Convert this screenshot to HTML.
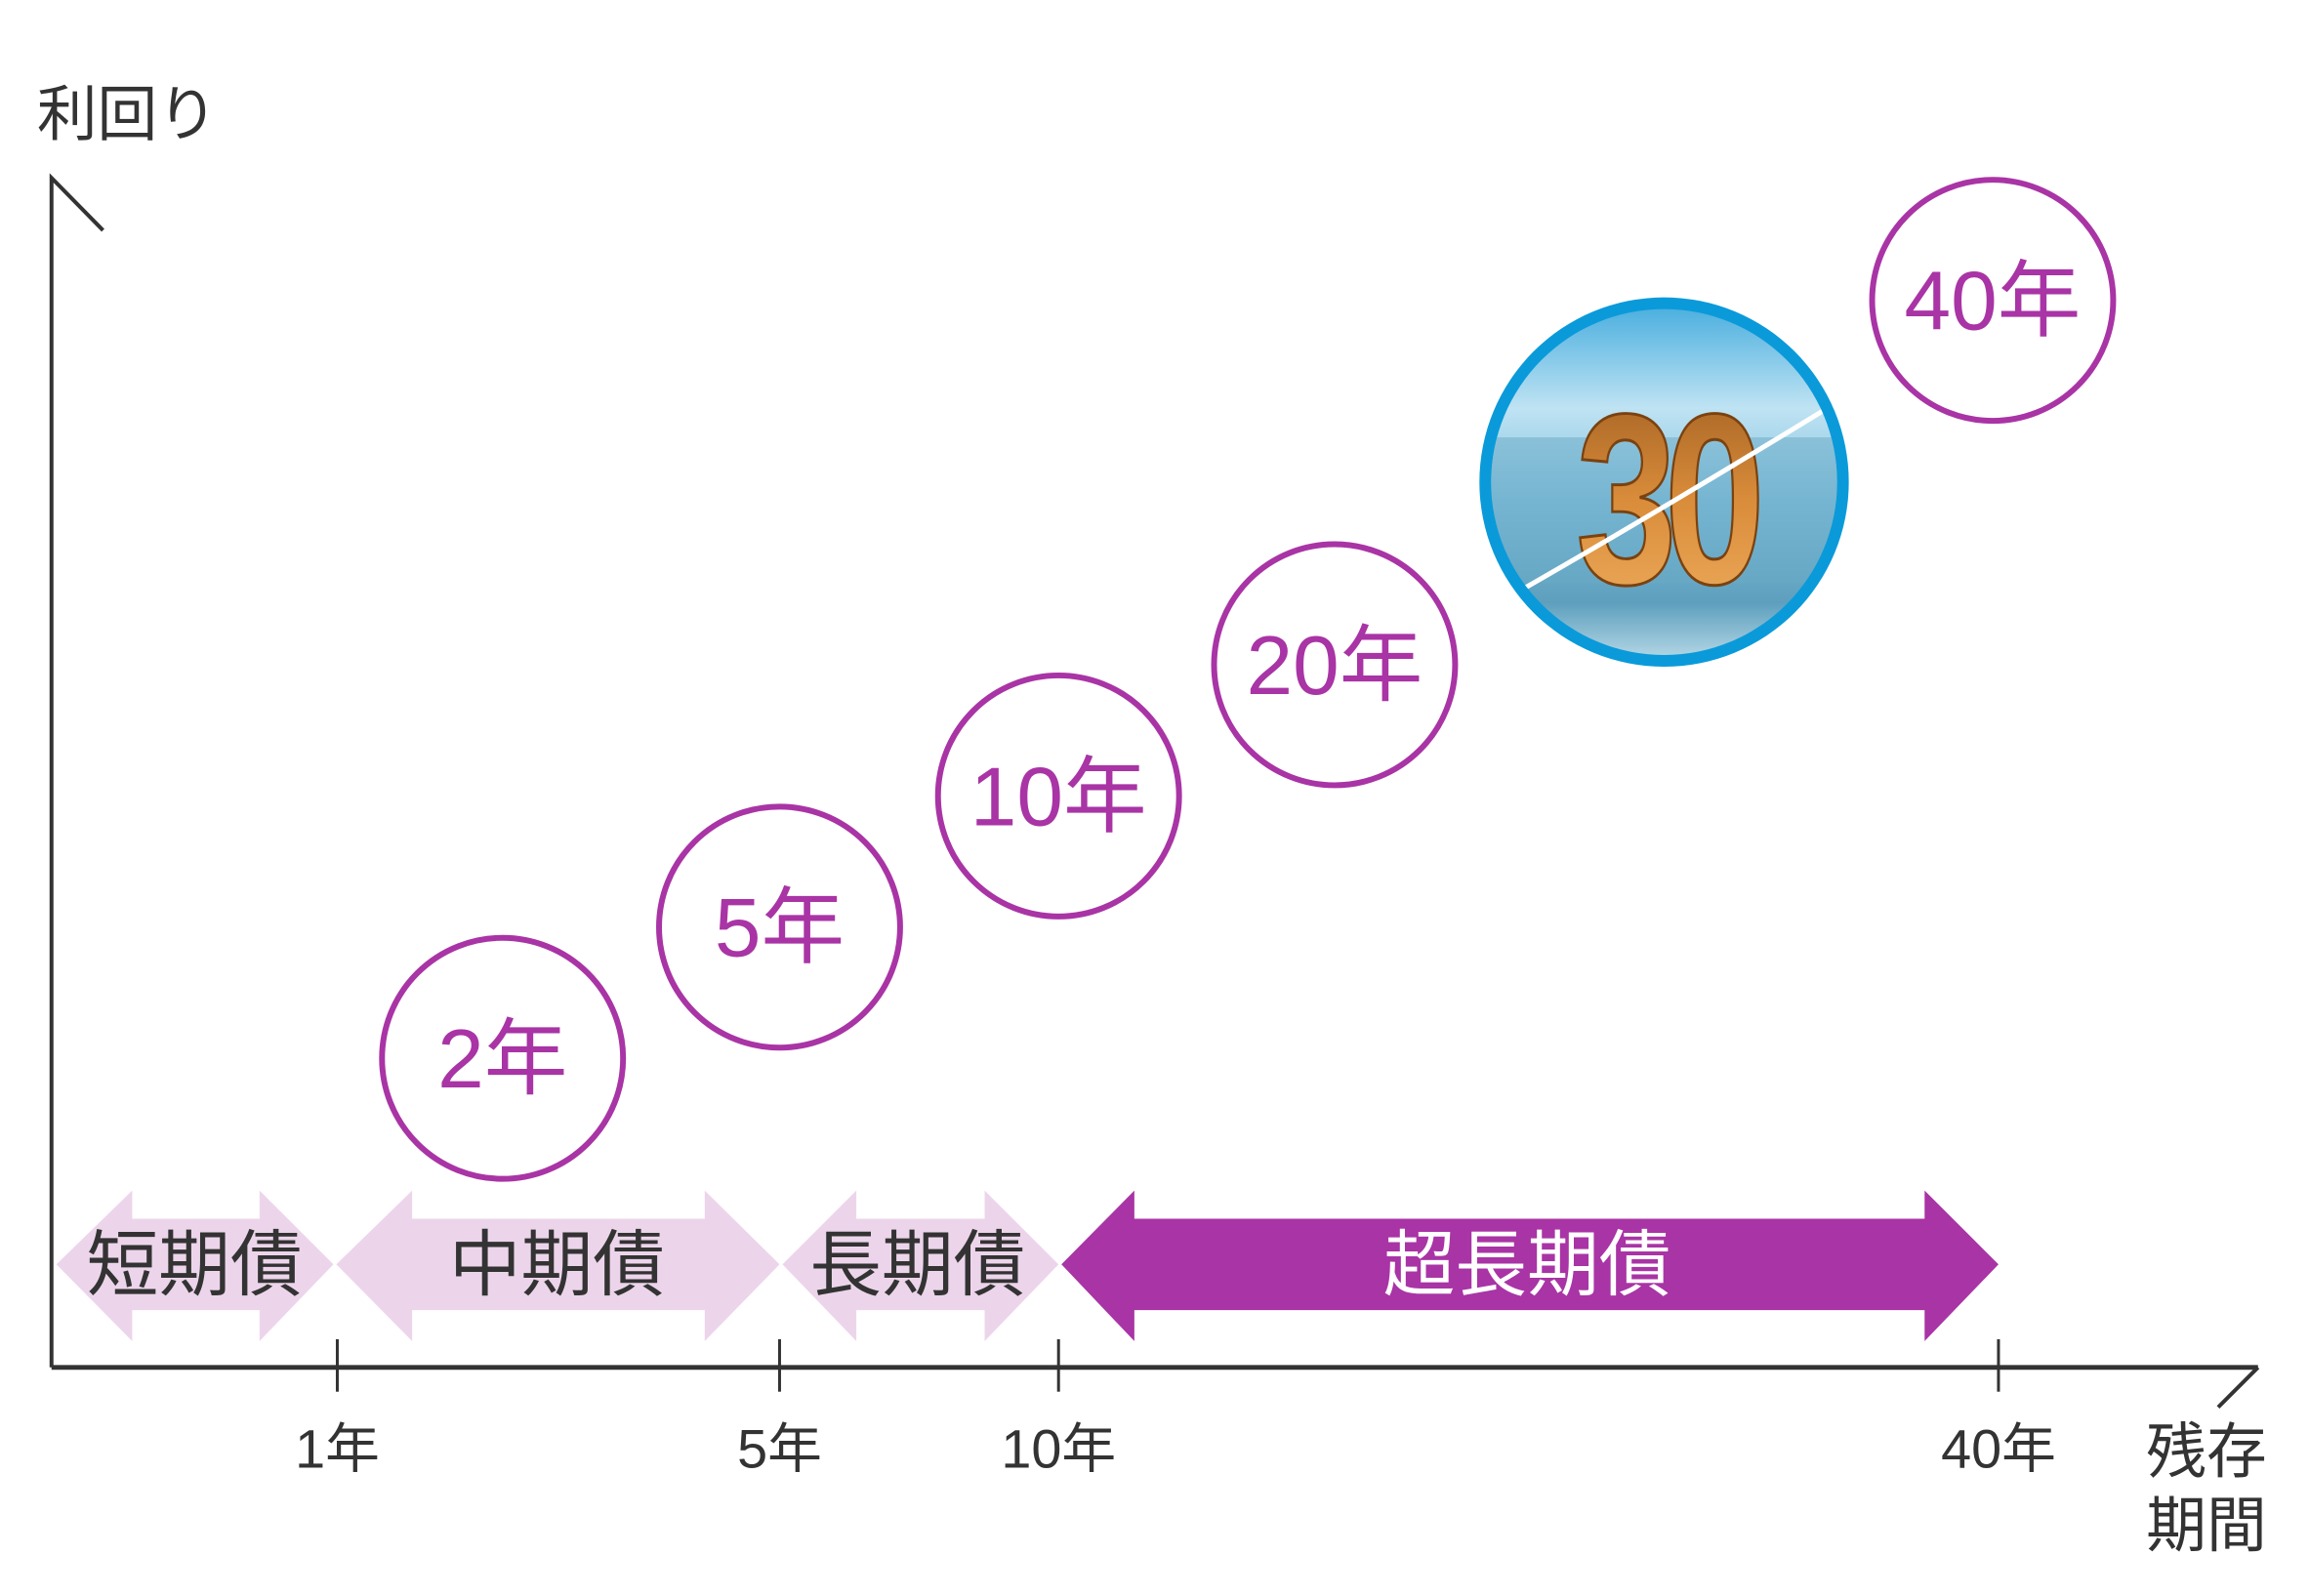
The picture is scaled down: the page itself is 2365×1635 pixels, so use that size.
<!DOCTYPE html>
<html><head><meta charset="utf-8"><style>
html,body{margin:0;padding:0;background:#fff;}
svg{display:block;}
text{font-family:"Liberation Sans","Noto Sans CJK JP",sans-serif;}
</style></head><body>
<svg width="2365" height="1635" viewBox="0 0 2365 1635" xmlns="http://www.w3.org/2000/svg">
<defs>
<linearGradient id="sky" x1="0" y1="0" x2="0" y2="1">
<stop offset="0" stop-color="#3aa7dc"/><stop offset="0.3" stop-color="#bfe3f3"/><stop offset="0.55" stop-color="#7fbfdc"/><stop offset="0.8" stop-color="#5d9fbd"/><stop offset="1" stop-color="#d5ecf5"/>
</linearGradient>
<linearGradient id="gold" x1="0" y1="0" x2="0" y2="1">
<stop offset="0" stop-color="#9a5a1f"/><stop offset="0.5" stop-color="#d98c3a"/><stop offset="1" stop-color="#f0b060"/>
</linearGradient>
<clipPath id="cc"><circle cx="1712" cy="496" r="178"/></clipPath>
</defs>
<g transform="scale(0.9956)">
<polyline points="106,237 53,183 53,1407" fill="none" stroke="#333" stroke-width="4"/>
<line x1="53" y1="1407" x2="2323" y2="1407" stroke="#333" stroke-width="5"/>
<line x1="2323" y1="1407" x2="2282" y2="1448" stroke="#333" stroke-width="4"/>
<g stroke="#333" stroke-width="3">
<line x1="347" y1="1378" x2="347" y2="1432"/>
<line x1="802" y1="1378" x2="802" y2="1432"/>
<line x1="1089" y1="1378" x2="1089" y2="1432"/>
<line x1="2056" y1="1378" x2="2056" y2="1432"/>
</g>
<g fill="#333" font-size="56" text-anchor="middle">
<text x="347" y="1510">1年</text>
<text x="802" y="1510">5年</text>
<text x="1089" y="1510">10年</text>
<text x="2056" y="1510">40年</text>
</g>
<text x="38" y="139" font-size="62" fill="#333">利回り</text>
<text x="2208" y="1515" font-size="62" fill="#333">残存</text>
<text x="2208" y="1591" font-size="62" fill="#333">期間</text>
<g fill="#ecd5ea">
<polygon points="58,1301 136,1225 136,1254 267,1254 267,1225 343,1301 267,1380 267,1348 136,1348 136,1380"/>
<polygon points="346,1301 424,1225 424,1254 725,1254 725,1225 802,1301 725,1380 725,1348 424,1348 424,1380"/>
<polygon points="805,1301 881,1225 881,1254 1013,1254 1013,1225 1089,1301 1013,1380 1013,1348 881,1348 881,1380"/>
</g>
<polygon fill="#a934a5" points="1092,1301 1167,1225 1167,1254 1980,1254 1980,1225 2056,1301 1980,1380 1980,1348 1167,1348 1167,1380"/>
<g font-size="74" text-anchor="middle">
<text x="200" y="1327" fill="#333">短期債</text>
<text x="573" y="1327" fill="#333">中期債</text>
<text x="944" y="1327" fill="#333">長期債</text>
<text x="1571" y="1327" fill="#fff">超長期債</text>
</g>
<g fill="none" stroke="#a934a5" stroke-width="6">
<circle cx="517" cy="1089" r="124"/>
<circle cx="802" cy="954" r="124"/>
<circle cx="1089" cy="819" r="124"/>
<circle cx="1373" cy="684" r="124"/>
<circle cx="2050" cy="309" r="124"/>
</g>
<g fill="#a934a5" font-size="86" text-anchor="middle">
<text x="517" y="1119">2年</text>
<text x="802" y="984">5年</text>
<text x="1089" y="849">10年</text>
<text x="1373" y="714">20年</text>
<text x="2050" y="339">40年</text>
</g>
<circle cx="1712" cy="496" r="190" fill="#0a9ad9"/>
<g clip-path="url(#cc)">
<rect x="1520" y="300" width="400" height="400" fill="url(#sky)"/>
<rect x="1530" y="450" width="360" height="150" fill="#6aa9c6" opacity="0.5"/>
<text x="1712" y="600" font-size="250" font-weight="bold" text-anchor="middle" fill="url(#gold)" stroke="#7a4210" stroke-width="3" letter-spacing="-18" transform="translate(1712 0) scale(0.75 1) translate(-1712 0)">30</text>
<path d="M1560 610 Q1700 530 1880 420" stroke="#fff" stroke-width="5" fill="none"/>
</g>
</g>
</svg>
</body></html>
